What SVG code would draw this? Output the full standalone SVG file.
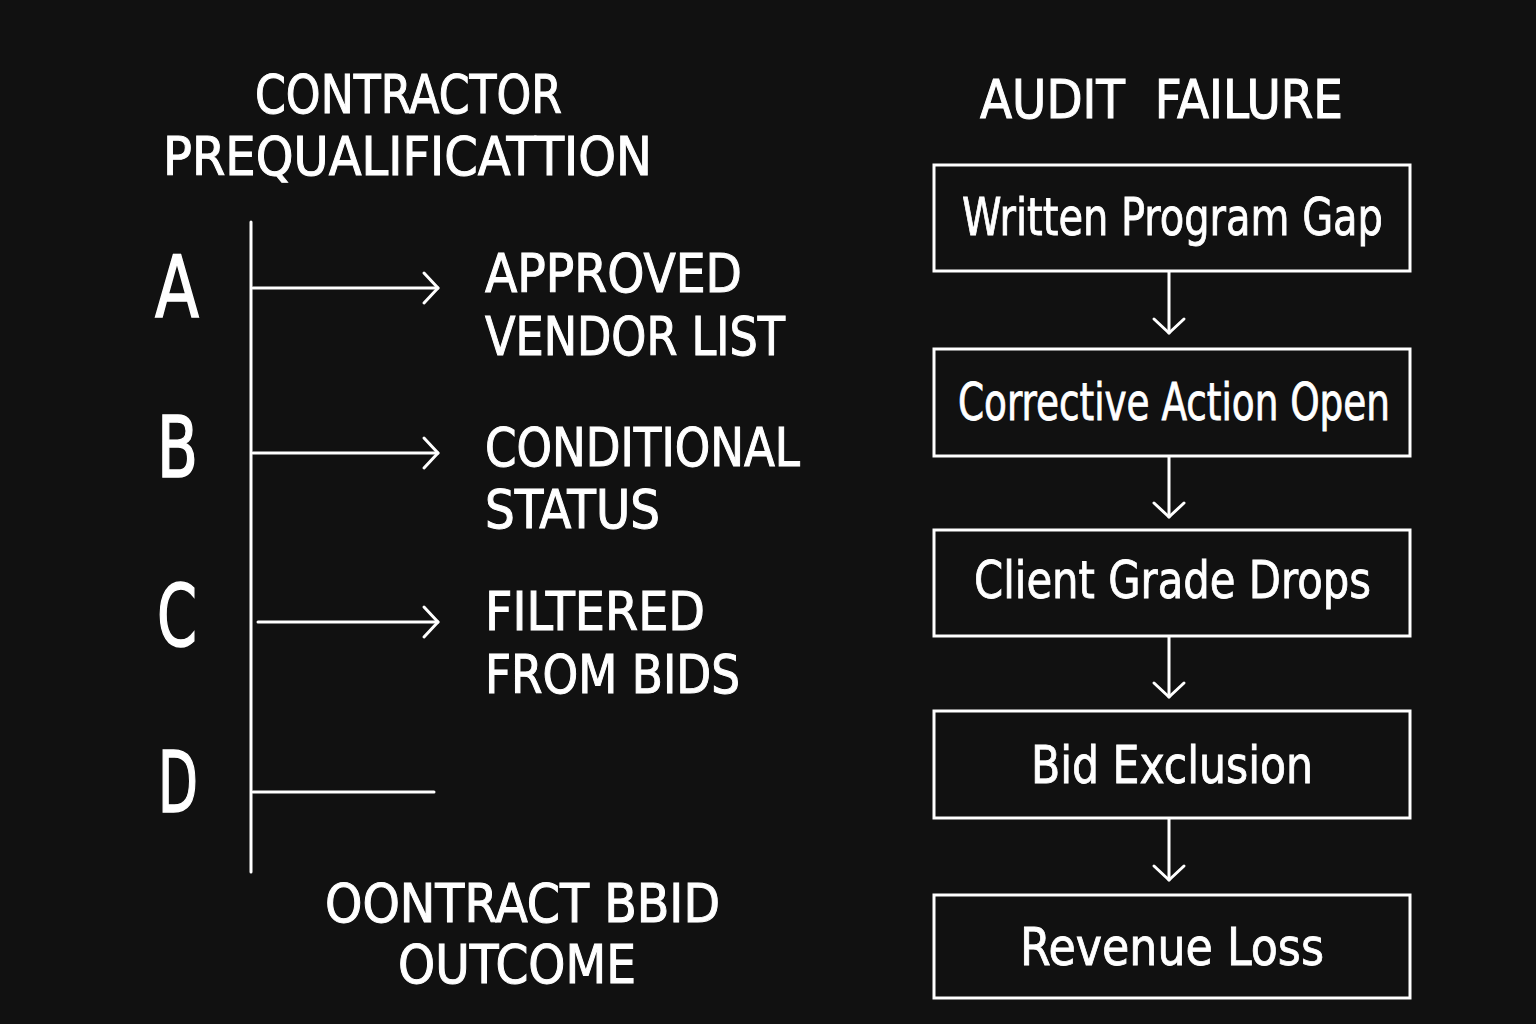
<svg xmlns="http://www.w3.org/2000/svg" width="1536" height="1024" viewBox="0 0 1536 1024">
<defs>
<style>
.t{font-family:"DejaVu Sans Condensed","DejaVu Sans","Liberation Sans",sans-serif;fill:#fff;font-weight:400}
.h{font-size:54px;stroke:#fff;stroke-width:1}
.l{font-size:86px;stroke:#fff;stroke-width:1.5}
.b{font-size:52px;stroke:#fff;stroke-width:0.8}
.ln{stroke:#fff;stroke-width:3;fill:none;stroke-linecap:round;stroke-linejoin:round}
.box{stroke:#fff;stroke-width:3;fill:#111}
</style>
<marker id="ah" viewBox="0 0 20 36" refX="17" refY="18" markerWidth="20" markerHeight="36" markerUnits="userSpaceOnUse" orient="auto">
<path d="M3,3 L17,18 L3,33" fill="none" stroke="#fff" stroke-width="3" stroke-linecap="round" stroke-linejoin="round"/>
</marker>
</defs>
<rect width="1536" height="1024" fill="#111"/>

<g id="title-left">
<text class="t h" x="255" y="113" textLength="307" lengthAdjust="spacingAndGlyphs">CONTRACTOR</text>
<text class="t h" x="163" y="175" textLength="489" lengthAdjust="spacingAndGlyphs">PREQUALIFICATTION</text>
</g>
<g id="title-right">
<text class="t h" x="980" y="118" textLength="363" lengthAdjust="spacingAndGlyphs" xml:space="preserve">AUDIT  FAILURE</text>
</g>

<g id="letters">
<text class="t l" x="155" y="317" textLength="44" lengthAdjust="spacingAndGlyphs">A</text>
<text class="t l" x="157" y="477" textLength="41" lengthAdjust="spacingAndGlyphs">B</text>
<text class="t l" x="157" y="646" textLength="40" lengthAdjust="spacingAndGlyphs">C</text>
<text class="t l" x="158" y="812" textLength="40" lengthAdjust="spacingAndGlyphs">D</text>
</g>

<g id="outcome-a">
<text class="t h" x="485" y="292" textLength="257" lengthAdjust="spacingAndGlyphs">APPROVED</text>
<text class="t h" x="485" y="355" textLength="300" lengthAdjust="spacingAndGlyphs">VENDOR LIST</text>
</g>
<g id="outcome-b">
<text class="t h" x="485" y="466" textLength="315" lengthAdjust="spacingAndGlyphs">CONDITIONAL</text>
<text class="t h" x="485" y="528" textLength="175" lengthAdjust="spacingAndGlyphs">STATUS</text>
</g>
<g id="outcome-c">
<text class="t h" x="485" y="630" textLength="220" lengthAdjust="spacingAndGlyphs">FILTERED</text>
<text class="t h" x="485" y="693" textLength="255" lengthAdjust="spacingAndGlyphs">FROM BIDS</text>
</g>
<g id="caption-bottom">
<text class="t h" x="325" y="922" textLength="395" lengthAdjust="spacingAndGlyphs">OONTRACT BBID</text>
<text class="t h" x="398" y="983" textLength="238" lengthAdjust="spacingAndGlyphs">OUTCOME</text>
</g>

<g id="box1"><rect class="box" x="934" y="165" width="476" height="106"/><text class="t b" x="962" y="235" textLength="421" lengthAdjust="spacingAndGlyphs">Written Program Gap</text></g>
<g id="box2"><rect class="box" x="934" y="349" width="476" height="107"/><text class="t b" x="958" y="420" textLength="432" lengthAdjust="spacingAndGlyphs">Corrective Action Open</text></g>
<g id="box3"><rect class="box" x="934" y="530" width="476" height="106"/><text class="t b" x="974" y="598" textLength="397" lengthAdjust="spacingAndGlyphs">Client Grade Drops</text></g>
<g id="box4"><rect class="box" x="934" y="711" width="476" height="107"/><text class="t b" x="1031" y="783" textLength="282" lengthAdjust="spacingAndGlyphs">Bid Exclusion</text></g>
<g id="box5"><rect class="box" x="934" y="895" width="476" height="103"/><text class="t b" x="1020" y="965" textLength="304" lengthAdjust="spacingAndGlyphs">Revenue Loss</text></g>

<g id="connectors">
<line class="ln" x1="251" y1="222" x2="251" y2="872"/>
<line class="ln" x1="253" y1="288" x2="438" y2="288" marker-end="url(#ah)"/>
<line class="ln" x1="253" y1="453" x2="438" y2="453" marker-end="url(#ah)"/>
<line class="ln" x1="258" y1="622" x2="438" y2="622" marker-end="url(#ah)"/>
<line class="ln" x1="253" y1="792" x2="434" y2="792"/>
<line class="ln" x1="1169" y1="272" x2="1169" y2="333" marker-end="url(#ah)"/>
<line class="ln" x1="1169" y1="457" x2="1169" y2="517" marker-end="url(#ah)"/>
<line class="ln" x1="1169" y1="637" x2="1169" y2="697" marker-end="url(#ah)"/>
<line class="ln" x1="1169" y1="819" x2="1169" y2="880" marker-end="url(#ah)"/>
</g>
</svg>
